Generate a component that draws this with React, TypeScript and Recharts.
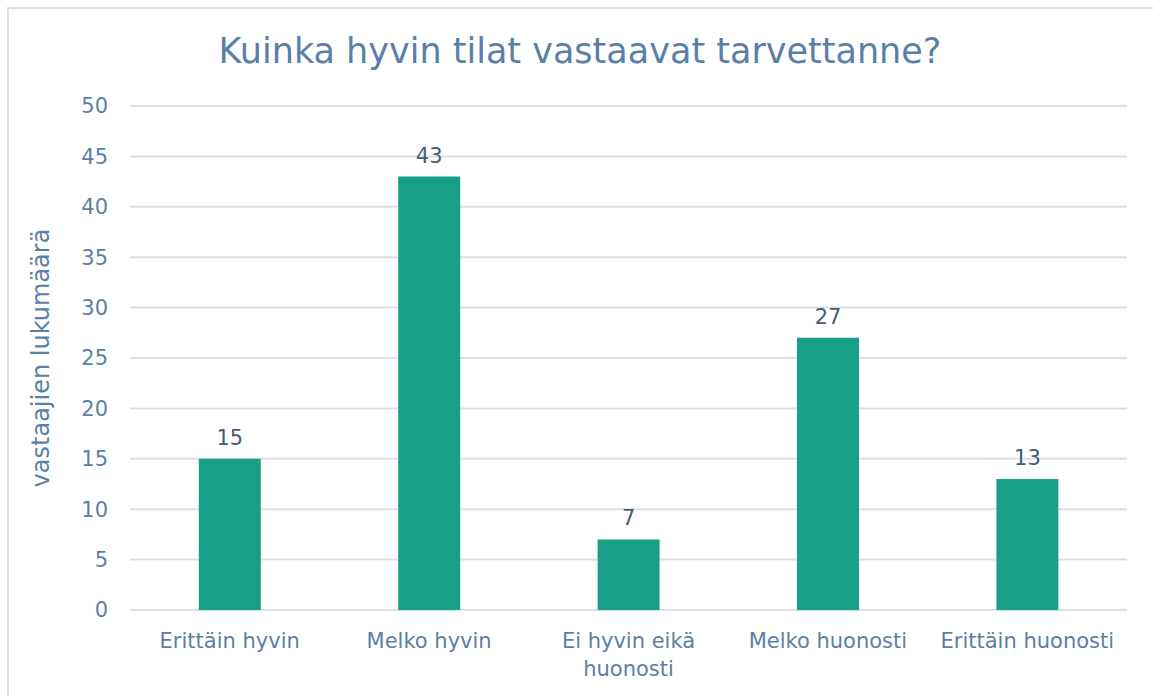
import React from 'react';
import {BarChart, Bar, XAxis, YAxis, CartesianGrid, LabelList} from 'recharts';

const categories = ['Erittäin hyvin', 'Melko hyvin', 'Ei hyvin eikä huonosti', 'Melko huonosti', 'Erittäin huonosti'];
const counts = [15, 43, 7, 27, 13];
const yTicks = [0, 5, 10, 15, 20, 25, 30, 35, 40, 45, 50];

const data = categories.map((name, i) => ({name, count: counts[i]}));

const FONT = '"DejaVu Sans", sans-serif';
const AXIS_COLOR = '#5b7fa6';
const GRID_COLOR = '#d9e0e9';
const MAX_CHARS = 17;

// pitkät nimet kahdelle riville
const wrapLabel = (label: string) => {
    const lines: string[] = [];
    let current = '';
    label.split(' ').forEach(word => {
        const next = current ? current + ' ' + word : word;
        if (next.length > MAX_CHARS && current) {
            lines.push(current);
            current = word;
        } else {
            current = next;
        }
    });
    lines.push(current);
    return lines;
};

const CategoryTick = (props: any) => {
    const {x, y, payload} = props;
    const lines = wrapLabel(String(payload.value));
    return (
        <text x={x} y={y} textAnchor="middle" fill={AXIS_COLOR} fontSize={21} fontFamily={FONT}>
            {lines.map((line, i) => (
                <tspan key={i} x={x} dy={i === 0 ? 15 : 28}>{line}</tspan>
            ))}
        </text>
    );
};

const App = () => {
    return (
        <div style={{position: 'absolute', left: 0, top: 0, width: 1153, height: 695, background: '#fff', overflow: 'hidden'}}>
            <div style={{position: 'absolute', left: 7, top: 7, width: 1160, height: 700, border: `2px solid ${GRID_COLOR}`, boxSizing: 'border-box'}}/>
            <div style={{position: 'absolute', left: 0, width: 1160, top: 28, textAlign: 'center', fontFamily: FONT,
                fontSize: 35, color: AXIS_COLOR, lineHeight: '46px'}}>
                Kuinka hyvin tilat vastaavat tarvettanne?
            </div>
            <BarChart width={1153} height={695} data={data} margin={{top: 106, right: 26, bottom: 0, left: 0}}
                      barCategoryGap="34.5%" style={{position: 'absolute', left: 0, top: 0}}>
                <CartesianGrid vertical={false} stroke={GRID_COLOR} strokeWidth={2}/>
                <XAxis dataKey="name" axisLine={false} tickLine={false} height={85} tickMargin={17}
                       tick={<CategoryTick/>} interval={0}/>
                <YAxis domain={[0, 50]} ticks={yTicks} width={130} axisLine={false} tickLine={false} tickMargin={16}
                       tick={{fill: AXIS_COLOR, fontSize: 21, fontFamily: FONT}}
                       label={{value: 'vastaajien lukumäärä', angle: -90, position: 'insideLeft', offset: 40,
                           style: {textAnchor: 'middle', fill: AXIS_COLOR, fontSize: 24, fontFamily: FONT}}}/>
                <Bar dataKey="count" fill="#17a085" isAnimationActive={false}>
                    <LabelList dataKey="count" position="top" offset={14} fill="#4a5a72" fontSize={21} fontFamily={FONT}/>
                </Bar>
            </BarChart>
        </div>
    );
};

export default App;
